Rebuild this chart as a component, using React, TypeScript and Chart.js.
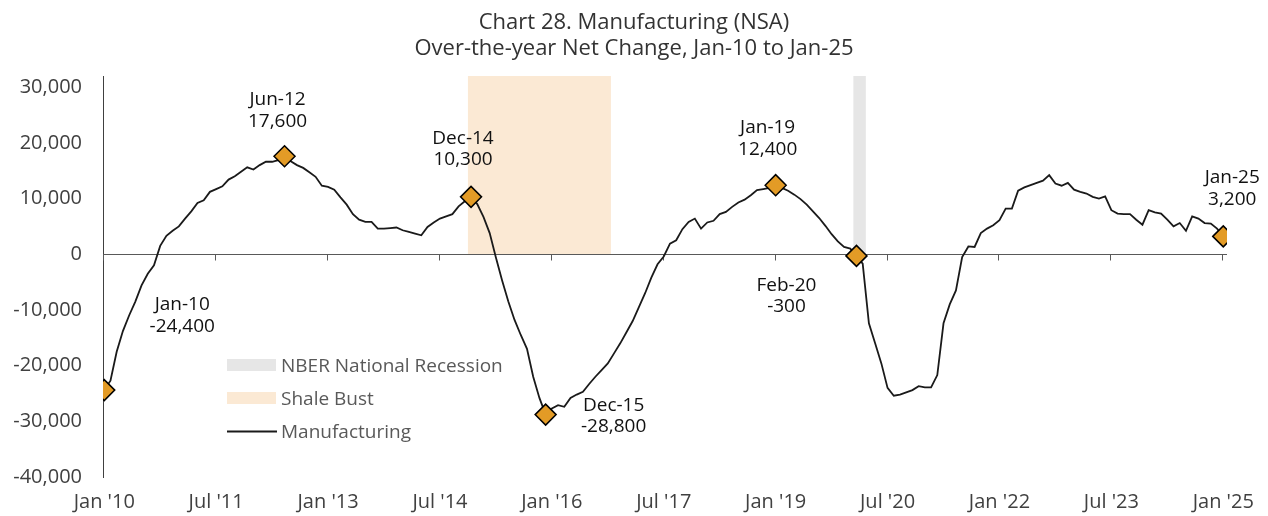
import React, { useEffect, useRef } from "react";
import { Chart, registerables } from "chart.js";

Chart.register(...registerables);

// ---------- DATA ----------
const MONTH_ABBR = ["Jan", "Feb", "Mar", "Apr", "May", "Jun", "Jul", "Aug", "Sep", "Oct", "Nov", "Dec"];
// Categories: monthly, Jan-10 .. Jan-25
const months: string[] = [];
for (let yr = 10; yr <= 25; yr++) {
  for (let mo = 0; mo < 12; mo++) {
    if (yr === 25 && mo > 0) break;
    months.push(`${MONTH_ABBR[mo]}-${String(yr).padStart(2, "0")}`);
  }
}

// Over-the-year net change, manufacturing (NSA)
const manufacturing: number[] = [
  // 2010
  -24400, -22700, -17500, -13800, -11000, -8500, -5600, -3500, -2000, 1500, 3300, 4200,
  // 2011
  5000, 6400, 7700, 9200, 9700, 11200, 11700, 12200, 13400, 14000, 14800, 15600,
  // 2012
  15200, 16000, 16600, 16600, 16900, 17600, 16700, 16000, 15500, 14700, 13900, 12300,
  // 2013
  12100, 11600, 10200, 8900, 7200, 6200, 5800, 5800, 4600, 4600, 4700, 4800,
  // 2014
  4300, 4000, 3700, 3400, 4900, 5700, 6400, 6800, 7200, 8600, 9500, 10300,
  // 2015
  9000, 6700, 3800, -600, -4700, -8500, -11800, -14500, -17000, -22000, -25800, -28800,
  // 2016
  -27700, -27100, -27400, -25800, -25200, -24700, -23300, -22000, -20800, -19600, -17800, -16000,
  // 2017
  -14000, -12000, -9500, -7000, -4200, -1800, -400, 1900, 2500, 4500, 5800, 6400,
  // 2018
  4600, 5700, 6000, 7200, 7600, 8500, 9300, 9800, 10600, 11500, 11700, 11900,
  // 2019
  12400, 11900, 11400, 10700, 9900, 8900, 7700, 6500, 5100, 3600, 2300, 1300,
  // 2020
  1000, -300, -1700, -12400, -16000, -19600, -24000, -25400, -25200, -24800, -24400, -23700,
  // 2021
  -23900, -23900, -21700, -12400, -9000, -6500, -500, 1400, 1300, 3800, 4600, 5200,
  // 2022
  6100, 8200, 8200, 11400, 12000, 12400, 12800, 13200, 14200, 12700, 12300, 12800,
  // 2023
  11600, 11200, 10900, 10300, 10000, 10400, 7900, 7300, 7200, 7200, 6200, 5300,
  // 2024
  7900, 7500, 7300, 6200, 5000, 5600, 4200, 6800, 6400, 5600, 5500, 4600,
  // 2025
  3200,
];

const highlightMonths: string[] = ["Jan-10", "Jun-12", "Dec-14", "Dec-15", "Jan-19", "Feb-20", "Jan-25"];

const tickMonths: number[] = [0, 18, 36, 54, 72, 90, 108, 126, 144, 162, 180];
const tickLabels: string[] = [
  "Jan '10", "Jul '11", "Jan '13", "Jul '14", "Jan '16", "Jul '17",
  "Jan '19", "Jul '20", "Jan '22", "Jul '23", "Jan '25",
];
const yTicks: number[] = [-40000, -30000, -20000, -10000, 0, 10000, 20000, 30000];

const shaleBust: string[] = ["Dec-14", "Oct-16"];
const nberRecession: string[] = ["Feb-20", "Mar-20"];

const titleLines: string[] = ["Chart 28. Manufacturing (NSA)", "Over-the-year Net Change, Jan-10 to Jan-25"];
const legendLabels: string[] = ["NBER National Recession", "Shale Bust", "Manufacturing"];

// ---------- STYLE ----------
const FONT = "'Open Sans', 'Noto Sans', sans-serif";
const SHALE_COLOR = "#FBE9D4";
const NBER_COLOR = "#E6E6E6";
const MARKER_COLOR = "#E39B26";
const LINE_COLOR = "#1a1a1a";
const AXIS_TEXT = "#404040";
const LEGEND_TEXT = "#595959";

// label offsets (px) of each highlight annotation relative to its marker
const labelOffsets: Record<string, [number, number]> = {
  "Jan-10": [78, -80],
  "Jun-12": [-7, -51],
  "Dec-14": [-8, -53],
  "Dec-15": [68, -4],
  "Jan-19": [-8, -52],
  "Feb-20": [-70, 35],
  "Jan-25": [9, -53],
};

const fmt = (v: number) => v.toLocaleString("en-US");

const overlayPlugin = {
  id: "overlay",
  beforeDatasetsDraw(chart: any) {
    const { ctx, chartArea } = chart;
    const x = chart.scales.x;
    const y = chart.scales.y;
    ctx.save();
    const band = (period: string[], color: string) => {
      const s = months.indexOf(period[0]) - 0.5;
      const e = months.indexOf(period[1]) + 0.5;
      const x0 = x.getPixelForValue(s);
      const x1 = x.getPixelForValue(e);
      const yTop = y.getPixelForValue(y.max);
      const y0 = y.getPixelForValue(0);
      ctx.fillStyle = color;
      ctx.fillRect(x0, yTop, x1 - x0, y0 - yTop);
    };
    band(shaleBust, SHALE_COLOR);
    band(nberRecession, NBER_COLOR);

    // zero axis line with tick marks
    const yz = Math.round(y.getPixelForValue(0)) + 0.5;
    ctx.strokeStyle = "#595959";
    ctx.lineWidth = 1;
    ctx.beginPath();
    ctx.moveTo(chartArea.left, yz);
    ctx.lineTo(chartArea.right, yz);
    tickMonths.forEach((m) => {
      const px = Math.round(x.getPixelForValue(m)) - 0.5;
      ctx.moveTo(px, yz);
      ctx.lineTo(px, yz + 6);
    });
    ctx.stroke();
    ctx.restore();
  },
  afterDraw(chart: any) {
    const { ctx } = chart;
    const x = chart.scales.x;
    const y = chart.scales.y;
    ctx.save();
    // title
    ctx.fillStyle = "#333333";
    ctx.textAlign = "center";
    ctx.textBaseline = "alphabetic";
    ctx.font = `22px ${FONT}`;
    ctx.fillText(titleLines[0], 634, 29);
    ctx.fillText(titleLines[1], 634, 55);

    // annotations
    ctx.font = `19px ${FONT}`;
    ctx.fillStyle = "#111111";
    highlightMonths.forEach((m) => {
      const i = months.indexOf(m);
      const v = manufacturing[i];
      const px = x.getPixelForValue(i);
      const py = y.getPixelForValue(v);
      const [dx, dy] = labelOffsets[m];
      ctx.fillText(m, px + dx, py + dy);
      ctx.fillText(fmt(v), px + dx, py + dy + 21.5);
    });

    // legend
    ctx.textAlign = "left";
    ctx.fillStyle = NBER_COLOR;
    ctx.fillRect(227, 359, 49, 12);
    ctx.fillStyle = SHALE_COLOR;
    ctx.fillRect(227, 392, 49, 12);
    ctx.strokeStyle = LINE_COLOR;
    ctx.lineWidth = 1.8;
    ctx.beginPath();
    ctx.moveTo(227, 431.5);
    ctx.lineTo(277, 431.5);
    ctx.stroke();
    ctx.fillStyle = LEGEND_TEXT;
    ctx.fillText(legendLabels[0], 281, 372);
    ctx.fillText(legendLabels[1], 281, 405);
    ctx.fillText(legendLabels[2], 281, 438);
    ctx.restore();
  },
};

export default function App() {
  const canvasRef = useRef<HTMLCanvasElement | null>(null);

  useEffect(() => {
    if (!canvasRef.current) return;
    const lineData = manufacturing.map((v, i) => ({ x: i, y: v }));
    const markerData = highlightMonths.map((m) => {
      const i = months.indexOf(m);
      return { x: i, y: manufacturing[i] };
    });

    const chart = new Chart(canvasRef.current, {
      type: "line",
      data: {
        datasets: [
          {
            label: "Highlights",
            data: markerData,
            showLine: false,
            pointStyle: "rectRot",
            pointRadius: 10.5,
            pointHoverRadius: 10.5,
            pointBackgroundColor: MARKER_COLOR,
            pointBorderColor: "#000000",
            pointBorderWidth: 1.5,
            order: 0,
          },
          {
            label: "Manufacturing",
            data: lineData,
            borderColor: LINE_COLOR,
            borderWidth: 1.8,
            pointRadius: 0,
            tension: 0,
            fill: false,
            order: 1,
          },
        ],
      },
      options: {
        animation: false,
        responsive: true,
        maintainAspectRatio: false,
        events: [],
        layout: { padding: { left: 0, right: 41, top: 76, bottom: 0 } },
        plugins: {
          legend: { display: false },
          title: { display: false },
          tooltip: { enabled: false },
        },
        scales: {
          x: {
            type: "linear",
            min: -0.2,
            max: 180.6,
            grid: { display: false, drawTicks: false },
            border: { display: false },
            afterBuildTicks: (scale: any) => {
              scale.ticks = tickMonths.map((v) => ({ value: v }));
            },
            afterFit: (scale: any) => {
              scale.height = 39;
            },
            ticks: {
              autoSkip: false,
              maxRotation: 0,
              padding: 13,
              color: AXIS_TEXT,
              font: { family: FONT, size: 20 },
              callback: (value: any) => {
                const k = tickMonths.indexOf(Number(value));
                return k >= 0 ? tickLabels[k] : "";
              },
            },
          },
          y: {
            type: "linear",
            min: -40000,
            max: 32000,
            grid: { display: false, drawTicks: false },
            border: { display: true, color: "#404040", width: 1 },
            afterBuildTicks: (scale: any) => {
              scale.ticks = yTicks.map((v) => ({ value: v }));
            },
            afterFit: (scale: any) => {
              scale.width = 103;
            },
            ticks: {
              padding: 21,
              color: AXIS_TEXT,
              font: { family: FONT, size: 20 },
              callback: (value: any) => fmt(Number(value)),
            },
          },
        },
      },
      plugins: [overlayPlugin],
    });
    return () => chart.destroy();
  }, []);

  return (
    <div style={{ position: "fixed", left: 0, top: 0, width: 1268, height: 516, background: "#ffffff" }}>
      <canvas ref={canvasRef} />
    </div>
  );
}
